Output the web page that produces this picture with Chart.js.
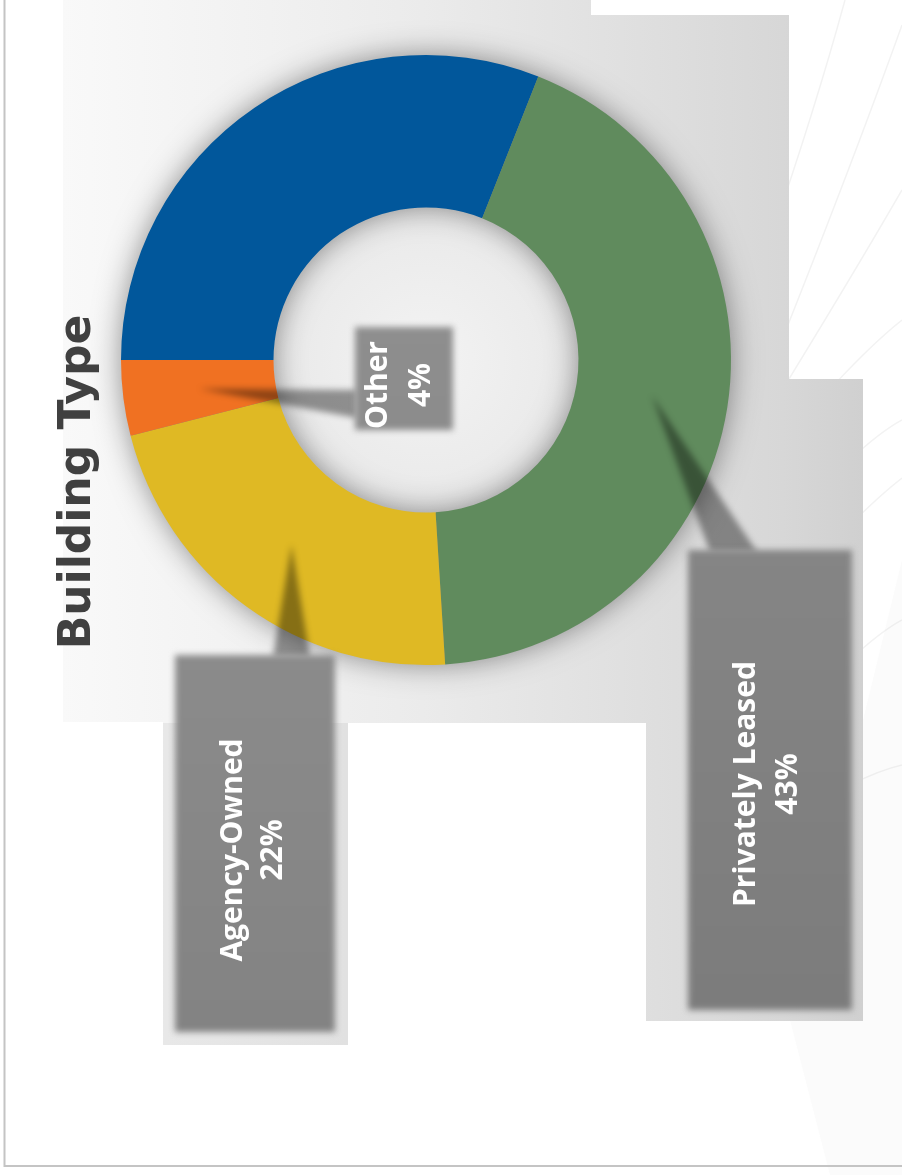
<!DOCTYPE html>
<html>
<head>
<meta charset="utf-8">
<script src="https://cdn.jsdelivr.net/npm/chart.js@4.4.0/dist/chart.umd.min.js"></script>
<style>
  html, body { margin: 0; padding: 0; background: #fff; }
  #wrap { width: 902px; height: 1175px; position: relative; }
</style>
</head>
<body>
<div id="wrap"><canvas id="buildingChart" width="902" height="1175"></canvas></div>
<script>
const categories = ['', 'Privately Leased', 'Agency-Owned', 'Other'];
const shares = [31, 43, 22, 4];
const sliceColors = ['#01579b', '#608b5d', '#dfb924', '#f07122'];
const chartTitle = 'Building Type';

// callout boxes (page is on its side, so text runs bottom to top)
// box: x, y, w, h ; base: where the pointer meets the box ; lines: baseline x per text line
const callouts = [
  null,
  { box: [688, 550, 164, 460], base: [[757, 552], [710, 552]], lines: [755, 797], mid: 784, fill: ['#858585', '#7c7c7c'] },
  { box: [175, 655, 160, 377], base: [[310, 657], [273, 657]], lines: [242, 282], mid: 850, fill: ['#8b8b8b', '#838383'] },
  { box: [355, 327, 98, 103], base: [[357, 418], [357, 390]], lines: [387, 430], mid: 385, fill: ['#8e8e8e', '#8c8c8c'] }
];

const backdrop = {
  id: 'backdrop',
  beforeDraw(chart) {
    const ctx = chart.ctx;
    ctx.save();
    ctx.fillStyle = '#ffffff';
    ctx.fillRect(0, 0, 902, 1175);

    // faint sweep on the lower right
    ctx.fillStyle = '#fbfbfb';
    ctx.beginPath();
    ctx.moveTo(790, 1020); ctx.lineTo(830, 1175); ctx.lineTo(902, 1175); ctx.lineTo(902, 560);
    ctx.closePath(); ctx.fill();

    // thin decorative curves
    ctx.strokeStyle = 'rgba(0,0,0,0.05)';
    ctx.lineWidth = 1.5;
    const curves = [
      [845, 0, 815, 110, 770, 240],
      [902, 25, 850, 170, 770, 370],
      [902, 190, 850, 280, 770, 410],
      [902, 320, 870, 345, 820, 400],
      [902, 420, 880, 432, 850, 460],
      [902, 478, 880, 495, 850, 525],
      [902, 620, 880, 632, 850, 660],
      [902, 765, 880, 770, 850, 785]
    ];
    curves.forEach(c => {
      ctx.beginPath(); ctx.moveTo(c[0], c[1]); ctx.quadraticCurveTo(c[2], c[3], c[4], c[5]); ctx.stroke();
    });

    // grey panel behind the doughnut and callouts
    const g = ctx.createLinearGradient(63, 0, 863, 0);
    g.addColorStop(0, '#f9f9f9');
    g.addColorStop(0.45, '#ebebeb');
    g.addColorStop(0.9, '#d7d7d7');
    g.addColorStop(1, '#d0d0d0');
    ctx.fillStyle = g;
    ctx.beginPath();
    [[63, 0], [591, 0], [591, 15], [789, 15], [789, 379], [863, 379], [863, 1021], [646, 1021],
     [646, 723], [348, 723], [348, 1045], [163, 1045], [163, 722], [63, 722]]
      .forEach((p, i) => i ? ctx.lineTo(p[0], p[1]) : ctx.moveTo(p[0], p[1]));
    ctx.closePath();
    ctx.fill();

    // slightly darker halo under the lower left callout
    ctx.fillStyle = 'rgba(0,0,0,0.05)';
    ctx.fillRect(163, 723, 185, 322);

    // page frame
    ctx.strokeStyle = '#c4c4c4';
    ctx.lineWidth = 2;
    ctx.beginPath();
    ctx.moveTo(4.5, 0); ctx.lineTo(4.5, 1166); ctx.lineTo(902, 1166);
    ctx.stroke();
    ctx.restore();
  },
  beforeDatasetsDraw(chart) {
    const ctx = chart.ctx;
    const a = chart.getDatasetMeta(0).data[0];
    ctx.save();
    // light centre in the hole
    const rg = ctx.createRadialGradient(a.x, a.y, 0, a.x, a.y, a.innerRadius);
    rg.addColorStop(0, '#f3f3f3');
    rg.addColorStop(1, '#e9e9e9');
    ctx.fillStyle = rg;
    ctx.beginPath(); ctx.arc(a.x, a.y, a.innerRadius, 0, Math.PI * 2); ctx.fill();
    // soft shadow of the ring
    ctx.shadowColor = 'rgba(0,0,0,0.45)';
    ctx.shadowBlur = 30;
    ctx.fillStyle = '#888';
    ctx.beginPath();
    ctx.arc(a.x, a.y, a.outerRadius - 1, 0, Math.PI * 2);
    ctx.arc(a.x, a.y, a.innerRadius + 1, 0, Math.PI * 2, true);
    ctx.fill();
    ctx.restore();
  },
  afterDatasetsDraw(chart) {
    const ctx = chart.ctx;
    const arcs = chart.getDatasetMeta(0).data;
    callouts.forEach((c, i) => {
      if (!c) return;
      const tip = arcs[i].tooltipPosition();
      const [bx, by, bw, bh] = c.box;
      ctx.save();
      ctx.filter = 'blur(3px)';
      // pointer, see-through so the slice colour darkens under it
      ctx.fillStyle = 'rgba(0,0,0,0.4)';
      ctx.beginPath();
      ctx.moveTo(tip.x, tip.y); ctx.lineTo(c.base[0][0], c.base[0][1]); ctx.lineTo(c.base[1][0], c.base[1][1]); ctx.closePath();
      ctx.fill();
      // box
      const bg = ctx.createLinearGradient(0, by, 0, by + bh);
      bg.addColorStop(0, c.fill[0]);
      bg.addColorStop(1, c.fill[1]);
      ctx.fillStyle = bg;
      ctx.fillRect(bx, by, bw, bh);
      ctx.restore();

      ctx.save();
      ctx.fillStyle = '#ffffff';
      ctx.font = 'bold 30px "Open Sans"';
      ctx.textAlign = 'center';
      ctx.textBaseline = 'alphabetic';
      const texts = [categories[i], shares[i] + '%'];
      texts.forEach((t, k) => {
        ctx.save();
        ctx.translate(c.lines[k], c.mid);
        ctx.rotate(-Math.PI / 2);
        ctx.fillText(t, 0, 0);
        ctx.restore();
      });
      ctx.restore();
    });

    // title
    ctx.save();
    ctx.fillStyle = '#404040';
    ctx.font = 'bold 44px "DejaVu Sans"';
    ctx.textAlign = 'center';
    ctx.textBaseline = 'alphabetic';
    ctx.translate(90, 482);
    ctx.rotate(-Math.PI / 2);
    ctx.fillText(chartTitle, 0, 0);
    ctx.restore();
  }
};

new Chart(document.getElementById('buildingChart'), {
  type: 'doughnut',
  data: {
    labels: categories,
    datasets: [{
      data: shares,
      backgroundColor: sliceColors,
      borderWidth: 0,
      hoverOffset: 0,
      offset: 0
    }]
  },
  options: {
    responsive: false,
    devicePixelRatio: 1,
    animation: false,
    rotation: 270,
    cutout: '50%',
    layout: { padding: { left: 121, top: 55, right: 171, bottom: 510 } },
    plugins: {
      legend: { display: false },
      tooltip: { enabled: false }
    },
    events: []
  },
  plugins: [backdrop]
});
</script>
</body>
</html>
